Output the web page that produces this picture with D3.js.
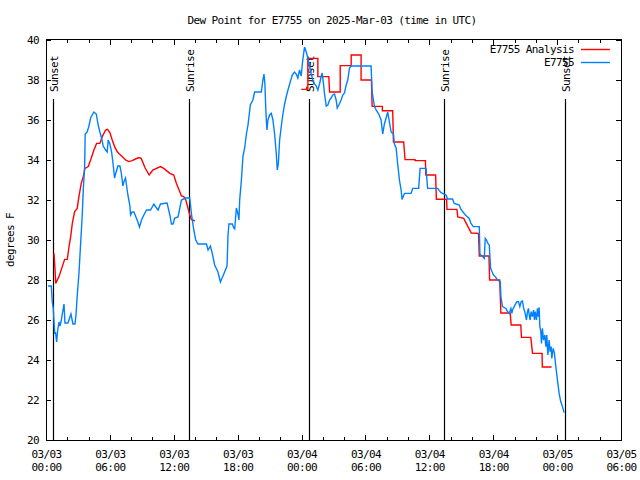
<!DOCTYPE html>
<html><head><meta charset="utf-8">
<script src="https://cdn.jsdelivr.net/npm/d3@7"></script>
<style>
body{margin:0;background:#fff;}
svg text{font-family:"DejaVu Sans Mono",monospace;font-size:11px;letter-spacing:-0.6px;fill:#000;}
</style></head><body>
<svg id="chart" width="640" height="480"></svg>
<script>
const title = "Dew Point for E7755 on 2025-Mar-03 (time in UTC)";
const yLabel = "degrees F";
const seriesNames = ["E7755 Analysis", "E7755"];
const seriesColors = ["#ff0000", "#0080ff"];
const startTime = Date.UTC(2025, 2, 3, 0, 0);
const spanHours = 54;
const xMajorTickHours = [0, 6, 12, 18, 24, 30, 36, 42, 48, 54];
const xTickLabels = [["03/03","00:00"],["03/03","06:00"],["03/03","12:00"],["03/03","18:00"],["03/04","00:00"],["03/04","06:00"],["03/04","12:00"],["03/04","18:00"],["03/05","00:00"],["03/05","06:00"]];
const xMinorTickHours = [2,4,8,10,14,16,20,22,26,28,32,34,38,40,44,46,50,52];
const yTicks = [20, 22, 24, 26, 28, 30, 32, 34, 36, 38, 40];
const sunEvents = ["Sunset", "Sunrise", "Sunset", "Sunrise", "Sunset"];
const sunHours = [0.68, 13.43, 24.68, 37.34, 48.72];

const obsHours = [0.19,0.50,0.59,0.68,0.82,0.89,1.00,1.10,1.22,1.31,1.41,1.53,1.69,1.78,2.06,2.34,2.53,2.72,2.81,2.93,3.09,3.25,3.40,3.50,3.63,3.68,3.87,4.03,4.19,4.34,4.50,4.72,4.90,5.06,5.22,5.37,5.60,5.75,5.84,6.00,6.16,6.28,6.38,6.44,6.53,6.75,6.94,7.06,7.22,7.31,7.47,7.57,7.69,7.78,7.88,7.94,8.09,8.25,8.41,8.63,8.78,8.97,9.19,9.44,9.82,10.13,10.31,10.53,10.75,11.37,11.63,11.78,11.93,12.09,12.40,12.72,13.10,13.50,13.66,13.88,14.06,14.28,15.07,15.22,15.44,15.63,15.84,16.15,16.38,16.62,17.00,17.09,17.18,17.50,17.63,17.72,17.88,18.03,18.12,18.19,18.35,18.50,18.66,18.82,18.97,19.19,19.43,19.59,20.22,20.37,20.47,20.56,20.63,20.69,20.75,20.84,21.00,21.16,21.31,21.47,21.63,21.72,21.82,21.94,22.10,22.25,22.41,22.62,22.88,23.13,23.34,23.50,23.65,23.81,23.97,24.07,24.19,24.28,24.44,24.59,24.75,24.91,25.06,25.22,25.38,25.53,25.69,25.85,25.94,26.06,26.16,26.32,26.47,26.63,26.78,26.93,27.09,27.25,27.35,27.50,27.72,27.87,28.03,28.19,28.34,28.50,28.66,30.53,30.63,30.84,31.00,31.25,31.47,31.62,31.78,31.94,32.09,32.25,32.41,32.63,32.72,32.88,33.03,33.19,33.35,33.44,33.66,34.28,34.44,35.00,35.13,35.69,35.84,36.78,36.94,37.10,37.57,37.72,38.18,38.34,38.81,38.97,39.38,39.75,39.91,40.13,40.69,40.75,41.00,41.16,41.25,41.37,41.47,41.63,41.69,41.75,41.88,42.03,42.19,42.40,42.66,42.72,42.87,43.19,43.34,43.50,43.66,43.75,43.81,43.97,44.13,44.22,44.37,44.50,44.63,44.75,44.84,45.00,45.12,45.22,45.31,45.38,45.47,45.56,45.68,45.78,45.87,45.94,46.06,46.15,46.25,46.31,46.38,46.47,46.53,46.62,46.72,46.85,46.94,47.03,47.13,47.25,47.34,47.44,47.50,47.63,47.75,47.88,48.03,48.19,48.34,48.50,48.66];
const obsValues = [27.7,27.7,26.9,26.6,25.3,25.4,24.9,25.5,25.9,25.7,25.9,26.3,26.8,25.85,25.85,26.3,25.8,25.8,26.2,27.2,28.3,29.8,31.2,32.5,33.7,35.3,35.4,35.7,36.1,36.25,36.4,36.3,35.75,35.4,35.1,34.7,34.5,34.4,35.0,34.8,34.4,33.9,33.4,33.1,33.3,33.7,33.7,33.4,32.7,32.9,33.1,32.7,32.25,32.0,31.7,31.25,31.4,31.4,31.2,30.9,30.65,31.0,31.25,31.5,31.5,31.8,31.65,31.5,31.8,31.85,31.25,30.8,30.8,31.1,31.15,32.0,32.1,32.1,31.3,30.5,30.0,29.8,29.8,29.5,29.7,29.3,28.75,28.4,27.9,28.2,28.7,30.2,30.8,30.8,30.6,30.55,31.6,31.3,31.0,32.0,33.0,34.2,34.6,35.3,35.75,36.75,37.0,37.4,37.4,38.0,38.3,37.8,36.7,36.0,35.5,36.0,36.25,36.33,36.0,35.3,34.3,33.5,33.8,35.0,35.7,36.3,36.8,37.3,37.8,38.25,38.4,38.3,38.1,38.5,38.2,38.8,39.3,39.65,39.4,39.1,38.7,38.3,38.0,37.8,37.7,37.5,37.8,38.2,38.35,37.8,37.3,36.7,36.75,37.0,37.1,37.25,37.3,37.0,36.6,36.75,37.0,37.25,37.35,37.75,38.0,38.6,38.7,38.7,37.4,36.7,36.5,36.3,36.0,35.3,35.8,36.1,36.4,35.9,35.4,35.3,34.8,34.6,33.8,33.0,32.5,32.03,32.33,32.33,32.58,32.58,33.58,33.58,32.58,32.58,32.47,32.37,32.25,32.05,32.05,31.83,31.75,31.53,31.25,31.08,30.83,30.67,30.67,29.3,29.17,29.08,30.08,30.0,29.85,29.75,29.17,28.6,28.42,28.25,28.17,28.0,27.92,27.17,26.67,26.58,26.42,26.33,26.58,26.33,26.5,26.67,26.83,26.92,26.92,26.67,26.92,26.95,26.63,26.33,26.0,26.42,26.58,26.25,26.0,26.42,26.17,26.5,26.0,26.42,26.0,26.58,26.17,26.63,25.67,25.42,24.83,25.58,25.0,25.25,24.67,25.25,24.25,25.0,24.42,24.67,24.08,24.58,24.33,23.67,23.0,22.33,21.92,21.67,21.37];

const anaHours = [0.75,0.84,0.91,1.22,1.53,1.75,2.00,2.16,2.32,2.47,2.69,2.93,3.09,3.31,3.50,3.66,3.97,4.19,4.50,4.75,5.06,5.28,5.60,5.77,6.00,6.22,6.44,6.68,6.84,7.15,7.47,7.78,8.09,8.41,8.72,8.94,9.31,9.69,10.03,10.75,11.06,11.63,12.00,12.25,12.50,12.72,12.94,13.13,13.34,13.50,13.66,13.97,null,23.97,24.59,24.59,25.53,25.53,26.56,26.63,27.63,27.63,28.66,28.66,29.59,29.59,30.56,30.63,31.59,31.59,32.56,32.63,33.59,33.72,34.66,34.66,35.63,35.67,36.59,36.66,37.62,37.66,38.59,38.67,39.23,39.94,40.62,40.69,41.60,41.66,42.61,42.72,43.59,43.69,44.59,44.65,45.53,45.69,46.59,46.61,47.48];
const anaValues = [29.33,28.6,27.83,28.17,28.67,29.03,29.03,29.67,30.17,30.83,31.42,31.58,32.17,32.83,33.17,33.58,33.67,34.0,34.5,34.83,34.83,35.17,35.5,35.53,35.37,35.0,34.67,34.42,34.33,34.17,34.0,33.92,33.97,34.05,34.12,34.08,33.6,33.25,33.5,33.67,33.58,33.33,33.25,32.83,32.5,32.2,32.17,32.0,31.58,31.25,31.03,30.95,null,37.53,37.53,39.08,39.08,38.17,38.17,37.4,37.4,38.72,38.72,39.25,39.25,38.0,38.0,36.68,36.68,36.46,36.46,34.9,34.9,34.02,34.02,33.97,33.97,33.25,33.25,32.04,32.04,31.53,31.53,31.15,31.08,30.35,30.33,29.2,29.2,28.0,28.0,26.35,26.35,25.75,25.75,25.13,25.13,24.33,24.33,23.65,23.65];

const toDate = h => new Date(startTime + h * 3600e3);
const svg = d3.select("#chart");
const L = 46, R = 621, T = 40, B = 440;
const x = d3.scaleUtc().domain([toDate(0), toDate(spanHours)]).range([L, R]);
const y = d3.scaleLinear().domain([20, 40]).range([B, T]);

svg.append("rect").attr("width", 640).attr("height", 480).attr("fill", "#fff");

// title
svg.append("text").attr("x", 332).attr("y", 24).attr("text-anchor", "middle").text(title);
// y label
svg.append("text").attr("transform", "translate(14,240) rotate(-90)").attr("text-anchor", "middle").text(yLabel);

const axG = svg.append("g").attr("shape-rendering", "crispEdges");
// bottom axis major
const bottom = axG.append("g").attr("transform", `translate(0,${B})`)
  .call(d3.axisBottom(x).tickValues(xMajorTickHours.map(toDate)).tickSize(-5).tickPadding(10).tickFormat((d, i) => ""));
bottom.selectAll(".tick text").each(function(d, i) {
  const t = d3.select(this).attr("y", null).attr("dy", null);
  t.append("tspan").attr("x", 0).attr("y", 18).text(xTickLabels[i][0]);
  t.append("tspan").attr("x", 0).attr("y", 31).text(xTickLabels[i][1]);
});
axG.append("g").attr("transform", `translate(0,${B})`)
  .call(d3.axisBottom(x).tickValues(xMinorTickHours.map(toDate)).tickSize(-3).tickFormat(""));
// top axis mirror
axG.append("g").attr("transform", `translate(0,${T})`)
  .call(d3.axisTop(x).tickValues(xMajorTickHours.map(toDate)).tickSize(-5).tickFormat(""));
axG.append("g").attr("transform", `translate(0,${T})`)
  .call(d3.axisTop(x).tickValues(xMinorTickHours.map(toDate)).tickSize(-3).tickFormat(""));
// left axis
const left = axG.append("g").attr("transform", `translate(${L},0)`)
  .call(d3.axisLeft(y).tickValues(yTicks).tickSize(-5).tickPadding(12).tickFormat(d3.format("d")));
left.selectAll(".tick text").attr("x", -7).attr("dy", "0.36em");
// right axis mirror
axG.append("g").attr("transform", `translate(${R},0)`)
  .call(d3.axisRight(y).tickValues(yTicks).tickSize(-5).tickFormat(""));
axG.selectAll(".domain").remove();
axG.selectAll(".tick line").attr("stroke", "#000");
axG.selectAll(".tick text").attr("font-family", null).attr("font-size", null).attr("fill", "#000");

// sunrise/sunset lines
const sun = svg.append("g");
sunHours.forEach((h, i) => {
  const sx = Math.round(x(toDate(h))) + 0.5;
  sun.append("line").attr("x1", sx).attr("x2", sx).attr("y1", 99).attr("y2", B)
    .attr("stroke", "#000").attr("stroke-width", 1.2);
  sun.append("text").attr("transform", `translate(${sx + 4},92) rotate(-90)`).text(sunEvents[i]);
});

// data lines
const anaData = anaHours.map((h, i) => ({ t: h === null ? null : toDate(h), v: anaValues[i] }));
const obsData = obsHours.map((h, i) => ({ t: toDate(h), v: obsValues[i] }));
const line = d3.line().defined(d => d.t !== null && d.v !== null).x(d => x(d.t)).y(d => y(d.v));
svg.append("path").datum(anaData).attr("d", line).attr("fill", "none")
  .attr("stroke", seriesColors[0]).attr("stroke-width", 1.4).attr("stroke-linejoin", "miter");
svg.append("path").datum(obsData).attr("d", line).attr("fill", "none")
  .attr("stroke", seriesColors[1]).attr("stroke-width", 1.4).attr("stroke-linejoin", "miter");

// frame
svg.append("rect").attr("x", L + 0.5).attr("y", T - 0.5).attr("width", R - L).attr("height", B - T + 0.5)
  .attr("fill", "none").attr("stroke", "#000").attr("stroke-width", 1).attr("shape-rendering", "crispEdges");

// legend
const leg = svg.append("g");
seriesNames.forEach((name, i) => {
  const ly = 49.5 + i * 13;
  leg.append("text").attr("x", 574).attr("y", ly + 3.8).attr("text-anchor", "end").text(name);
  leg.append("line").attr("x1", 581).attr("x2", 610).attr("y1", ly).attr("y2", ly)
    .attr("stroke", seriesColors[i]).attr("stroke-width", 1.4);
});
</script>
</body></html>
